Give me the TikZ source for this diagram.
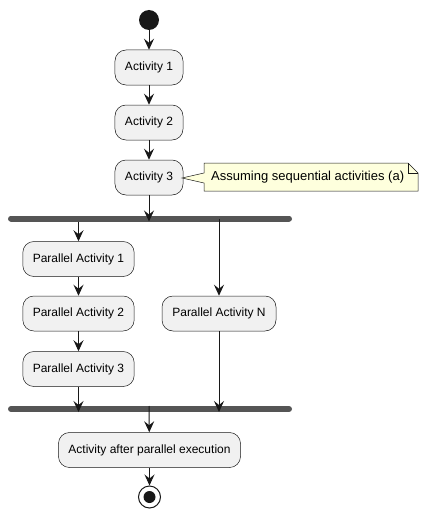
\documentclass[tikz,border=0pt]{standalone}
\usepackage{fontspec}
\setmainfont{Liberation Sans}
\usetikzlibrary{arrows.meta}
\definecolor{boxfill}{HTML}{F1F1F1}
\definecolor{boxline}{HTML}{181818}
\definecolor{notefill}{HTML}{FEFFDD}
\definecolor{barcol}{HTML}{555555}
\begin{document}
\begin{tikzpicture}[x=1pt,y=-1pt,
  act/.style={draw=boxline,fill=boxfill,line width=0.5pt,rounded corners=11pt,
    minimum height=35pt,inner xsep=10pt,font=\fontsize{12pt}{14pt}\selectfont,text=black},
  flow/.style={draw=boxline,line width=1pt,-{Stealth[length=11pt,width=10pt,inset=4pt]}},
  bar/.style={draw=barcol,line width=6pt,line cap=round}]
\useasboundingbox (0,0) rectangle (428,519);
\node[circle,fill=boxline,minimum size=20pt,inner sep=0pt] (start) at (149,20) {};
\node[act] (a1) at (149,67.5) {Activity 1};
\node[act] (a2) at (149,122.5) {Activity 2};
\node[act] (a3) at (149,177.5) {Activity 3};
\coordinate (fork) at (149,218.5);
\coordinate (forkR) at (219,218.5);
\draw[bar] (11,218.5) -- (289,218.5);
\node[act,minimum width=111pt] (p1) at (78.5,259) {Parallel Activity 1};
\node[act,minimum width=111pt] (p2) at (78.5,313.5) {Parallel Activity 2};
\node[act,minimum width=111pt] (p3) at (78.5,369) {Parallel Activity 3};
\node[act,minimum width=114pt] (pn) at (219,313.5) {Parallel Activity N};
\coordinate (joinL) at (78.5,409);
\coordinate (joinR) at (219,409);
\coordinate (join) at (149,409);
\draw[bar] (11,409) -- (289,409);
\node[act] (af) at (149.5,450) {Activity after parallel execution};
\node[circle,draw=boxline,line width=1pt,fill=white,minimum size=22pt,inner sep=0pt] (end) at (149.5,497) {};
\node[circle,fill=boxline,minimum size=12pt,inner sep=0pt] at (end) {};
% note
\draw[draw=boxline,fill=notefill,line width=0.5pt]
  (204,163) -- (408,163) -- (418,173) -- (418,191) -- (204,191) -- (204,183)
  -- (182,178) -- (204,173) -- cycle;
\draw[draw=boxline,line width=0.5pt] (408,163) -- (408,173) -- (418,173);
\node[anchor=west,font=\fontsize{13pt}{15pt}\selectfont,inner sep=0pt] (note) at (211,177.5) {Assuming sequential activities (a)};
% flows
\draw[flow] (start) -- (a1);
\draw[flow] (a1) -- (a2);
\draw[flow] (a2) -- (a3);
\draw[flow] (a3) -- ([yshift=-3pt]fork);
\draw[flow] (78.5,221.5) -- (p1);
\draw[flow] (p1) -- (p2);
\draw[flow] (p2) -- (p3);
\draw[flow] (forkR) -- (pn);
\draw[flow] (p3) -- ([yshift=-3pt]joinL);
\draw[flow] (pn) -- ([yshift=-3pt]joinR);
\draw[flow] ([yshift=3pt]join) -- (af);
\draw[flow] (af) -- (end);
\end{tikzpicture}
\end{document}
